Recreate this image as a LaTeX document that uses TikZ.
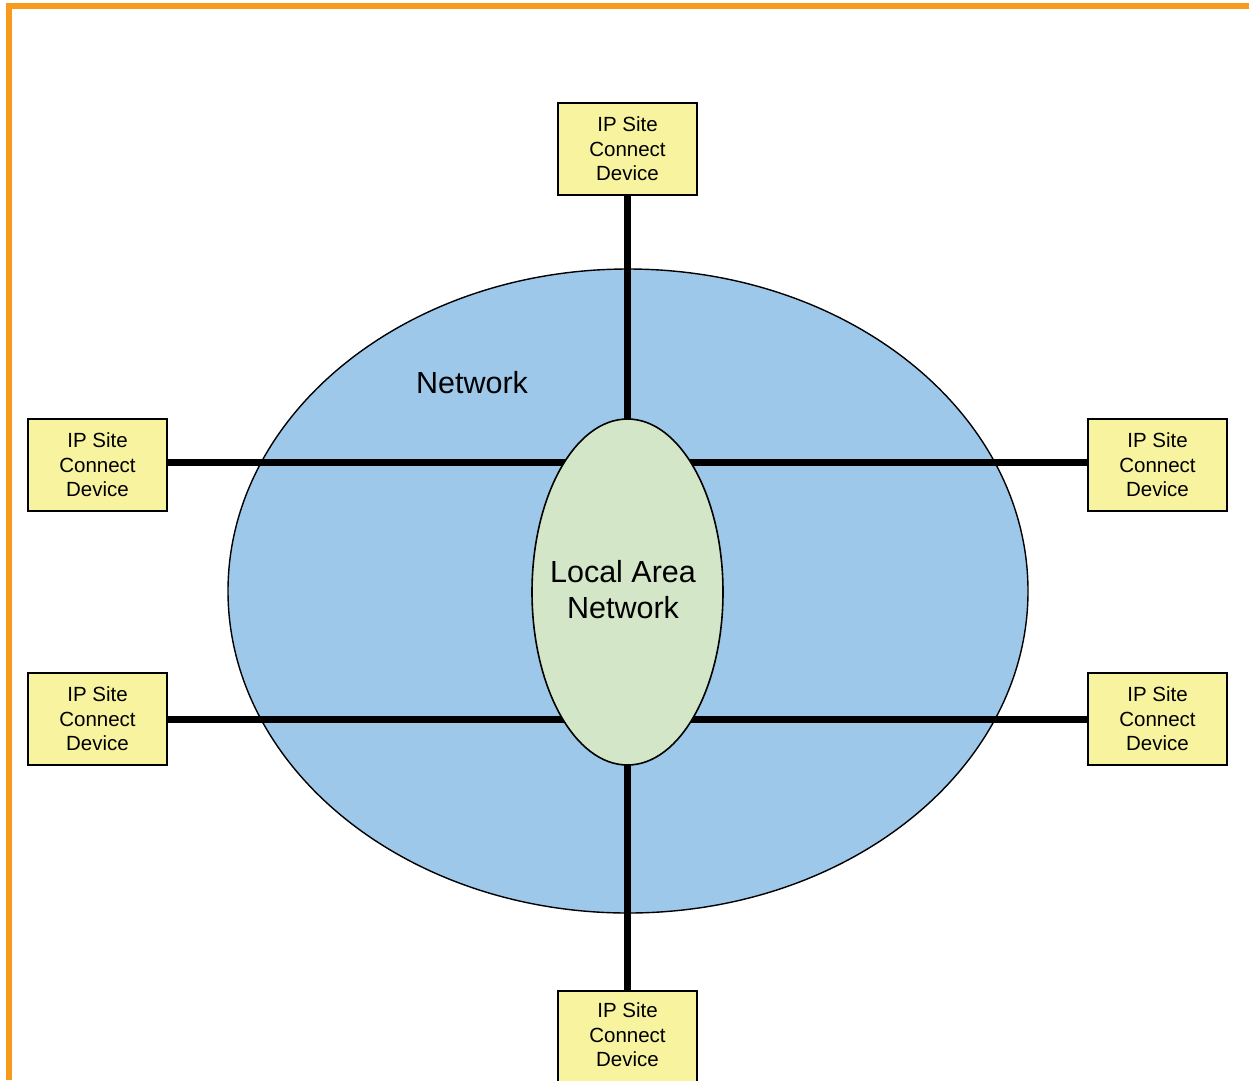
\documentclass[tikz,border=0pt]{standalone}
\usepackage{fontspec}
\setmainfont{Liberation Sans}
\usetikzlibrary{shapes.geometric}
\definecolor{frameor}{HTML}{F89A1C}
\definecolor{netblue}{HTML}{9EC8EA}
\definecolor{langreen}{HTML}{D3E6C7}
\definecolor{boxyel}{HTML}{F7F39F}
\pgfdeclarelayer{bglayer}
\pgfdeclarelayer{linklayer}
\pgfsetlayers{bglayer,linklayer,main}
\begin{document}
\begin{tikzpicture}[x=1pt,y=-1pt,
  dev/.style={draw=black, line width=1.6pt, fill=boxyel, minimum width=139pt, minimum height=92pt,
    inner sep=0pt, align=center, font=\fontsize{20.5}{24.5}\selectfont},
  link/.style={line width=7pt, draw=black}]
\useasboundingbox (0,0) rectangle (1249,1080);
% frame
\draw[frameor, line width=6pt] (9,1080) -- (9,6) -- (1249,6);
% network
\begin{pgfonlayer}{bglayer}
\node[ellipse, draw=black, line width=1.4pt, fill=netblue, minimum width=800pt, minimum height=644pt, inner sep=0pt] (net) at (628,591) {};
\end{pgfonlayer}
\node[font=\fontsize{30.5}{36}\selectfont] (netlbl) at (472,383) {Network};
% devices
\node[dev] (dtop) at (627.5,149) {IP Site\\Connect\\Device};
\node[dev] (dl1) at (97.5,465) {IP Site\\Connect\\Device};
\node[dev] (dl2) at (97.5,719) {IP Site\\Connect\\Device};
\node[dev] (dr1) at (1157.5,465) {IP Site\\Connect\\Device};
\node[dev] (dr2) at (1157.5,719) {IP Site\\Connect\\Device};
\node[dev, minimum height=100pt, text depth=12pt] (dbot) at (627.5,1041) {IP Site\\Connect\\Device};
% LAN
\node[ellipse, draw=black, line width=1.6pt, fill=langreen, minimum width=191pt, minimum height=346pt, inner sep=0pt] (lan) at (627.5,592) {};
\node[font=\fontsize{30.5}{36}\selectfont, align=center] (lanlbl) at (623,590) {Local Area\\Network};
\coordinate (cl1) at (627.5,462);
\coordinate (cl2) at (627.5,719);
% links (behind LAN)
\begin{pgfonlayer}{linklayer}
\draw[link] (dtop.south) -- (lan.center);
\draw[link] (dbot.north) -- (lan.center);
\draw[link] (dl1.east |- cl1) -- (cl1);
\draw[link] (dr1.west |- cl1) -- (cl1);
\draw[link] (dl2.east |- cl2) -- (cl2);
\draw[link] (dr2.west |- cl2) -- (cl2);
\end{pgfonlayer}
\end{tikzpicture}
\end{document}
